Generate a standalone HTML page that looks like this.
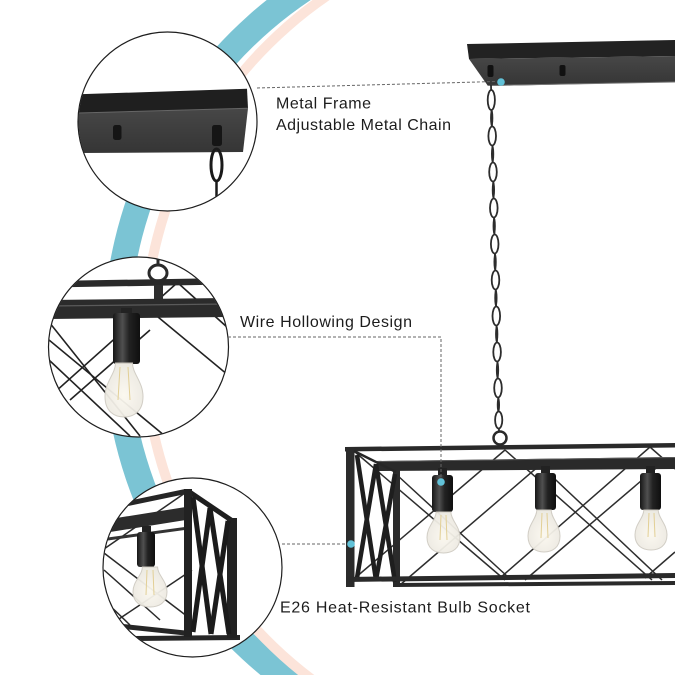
<!DOCTYPE html>
<html><head><meta charset="utf-8"><style>
html,body{margin:0;padding:0;background:#fff;width:675px;height:675px;overflow:hidden;}
svg{display:block;position:absolute;left:0;top:0;}
text{font-family:"Liberation Sans",Arial,sans-serif;font-size:16px;fill:#1c1c1c;}
</style></head><body>
<svg width="675" height="675" viewBox="0 0 675 675" xmlns="http://www.w3.org/2000/svg" overflow="hidden">
<defs>
 <clipPath id="c1"><circle cx="167.5" cy="121.5" r="89"/></clipPath>
 <clipPath id="c2"><circle cx="138.5" cy="347" r="89.5"/></clipPath>
 <clipPath id="c3"><circle cx="192.5" cy="567.5" r="89"/></clipPath>
 <linearGradient id="sock" x1="0" x2="1" y1="0" y2="0">
  <stop offset="0" stop-color="#161616"/><stop offset=".35" stop-color="#505050"/><stop offset=".6" stop-color="#222"/><stop offset="1" stop-color="#0f0f0f"/>
 </linearGradient>
 <radialGradient id="glass" cx=".5" cy=".6" r=".6">
  <stop offset="0" stop-color="#fbf8ef"/><stop offset="1" stop-color="#ebe8e0"/>
 </radialGradient>
 <linearGradient id="under" x1="0" y1="0" x2="0" y2="1">
  <stop offset="0" stop-color="#474747"/><stop offset="1" stop-color="#353535"/>
 </linearGradient>
</defs>
<rect width="675" height="675" fill="#fff"/>

<!-- decorative arcs (filled annular bands, kept inside the frame) -->
<path d="M266.7,0 A435,435 0 0 0 260.5,675 L303.4,675 A409,409 0 0 1 310.7,0 Z" fill="#7bc4d4"/>
<path d="M312.4,0 A426,426 0 0 0 298.1,675 L314.3,675 A416,416 0 0 1 329.6,0 Z" fill="#fce4da"/>

<!-- ===== Canopy top right ===== -->
<polygon points="467,44 675,40 675,56 469,59" fill="#222"/>
<polygon points="469,59 675,56 675,82 488,86" fill="url(#under)"/>
<line x1="488" y1="85.5" x2="675" y2="82" stroke="#777" stroke-width="1"/>
<rect x="487.5" y="65" width="6" height="12" rx="2" fill="#111"/>
<rect x="559.5" y="65" width="6" height="11" rx="2" fill="#111"/>

<!-- chain -->
<line x1="491" y1="85" x2="499" y2="432" stroke="#2c2c2c" stroke-width="1.8"/>
<g fill="#2c2c2c">
 <ellipse cx="491.7" cy="118" rx="1.6" ry="9"/>
 <ellipse cx="492.6" cy="154" rx="1.6" ry="9"/>
 <ellipse cx="493.4" cy="190" rx="1.6" ry="9"/>
 <ellipse cx="494.2" cy="226" rx="1.6" ry="9"/>
 <ellipse cx="495.1" cy="262" rx="1.6" ry="9"/>
 <ellipse cx="495.9" cy="298" rx="1.6" ry="9"/>
 <ellipse cx="496.7" cy="334" rx="1.6" ry="9"/>
 <ellipse cx="497.5" cy="370" rx="1.6" ry="9"/>
 <ellipse cx="498.4" cy="405" rx="1.6" ry="8"/>
</g>
<g fill="#fff" stroke="#2c2c2c" stroke-width="1.8">
 <ellipse cx="491.3" cy="100" rx="3.6" ry="10"/>
 <ellipse cx="492.2" cy="136" rx="3.8" ry="9.5"/>
 <ellipse cx="493.0" cy="172" rx="3.8" ry="9.5"/>
 <ellipse cx="493.8" cy="208" rx="3.8" ry="9.5"/>
 <ellipse cx="494.7" cy="244" rx="3.8" ry="9.5"/>
 <ellipse cx="495.5" cy="280" rx="3.8" ry="9.5"/>
 <ellipse cx="496.3" cy="316" rx="3.8" ry="9.5"/>
 <ellipse cx="497.1" cy="352" rx="3.8" ry="9.5"/>
 <ellipse cx="498.0" cy="388" rx="3.8" ry="9.5"/>
 <ellipse cx="498.7" cy="420" rx="3.6" ry="8.5"/>
</g>
<circle cx="500" cy="438" r="6.5" fill="none" stroke="#2a2a2a" stroke-width="2.5"/>

<!-- ===== Main fixture ===== -->
<g stroke="#2d2d2d" stroke-width="1.5" fill="none">
 <line x1="355" y1="578" x2="505" y2="450"/>
 <line x1="500" y1="578" x2="650" y2="447"/>
 <line x1="645" y1="578" x2="675" y2="552"/>
 <line x1="355" y1="452" x2="505" y2="580"/>
 <line x1="505" y1="450" x2="652" y2="580"/>
 <line x1="650" y1="447" x2="675" y2="469"/>
 <line x1="400" y1="585" x2="540" y2="465"/>
 <line x1="525" y1="580" x2="662" y2="463"/>
 <line x1="397" y1="475" x2="508" y2="577"/>
 <line x1="540" y1="465" x2="662" y2="580"/>
</g>
<polygon points="345,447 675,443 675,447.5 345,451.5" fill="#2a2a2a"/>
<polygon points="377,461 675,457 675,469 377,471" fill="#2a2a2a"/>
<line x1="377" y1="461.5" x2="675" y2="457.5" stroke="#5a5a5a" stroke-width="1"/>
<rect x="346" y="447" width="8.5" height="140" fill="#2b2b2b"/>
<rect x="393" y="470" width="7" height="117" fill="#2b2b2b"/>
<line x1="354" y1="451" x2="396" y2="472" stroke="#262626" stroke-width="2.5"/>
<g stroke="#1e1e1e" stroke-width="4.5">
 <line x1="357" y1="455" x2="376" y2="580"/>
 <line x1="376" y1="464" x2="357" y2="578"/>
 <line x1="376" y1="464" x2="395" y2="582"/>
 <line x1="395" y1="474" x2="376" y2="580"/>
</g>
<polygon points="346,577 675,573 675,578 346,582" fill="#2a2a2a"/>
<polygon points="395,583 675,581 675,585 395,587" fill="#2a2a2a"/>

<!-- sockets -->
<rect x="438" y="468" width="9" height="8" fill="#222"/>
<rect x="432" y="475" width="21" height="37" rx="3" fill="url(#sock)"/>
<rect x="541" y="466" width="9" height="8" fill="#222"/>
<rect x="535" y="473" width="21" height="37" rx="3" fill="url(#sock)"/>
<rect x="646" y="466" width="9" height="8" fill="#222"/>
<rect x="640" y="473" width="21" height="37" rx="3" fill="url(#sock)"/>
<!-- bulbs -->
<g fill="url(#glass)" stroke="#cfcbc2" stroke-width="1" opacity="0.95">
 <path d="M436.1,512 C436.1,520.2 427,526.4 427,537.4 C427,548.9 435.3,553 443.5,553 C451.7,553 460,548.9 460,537.4 C460,526.4 450.9,520.2 450.9,512 Z"/>
 <path d="M536.8,510 C536.8,518.4 528,524.7 528,536 C528,547.8 536,552 544,552 C552,552 560,547.8 560,536 C560,524.7 551.2,518.4 551.2,510 Z"/>
 <path d="M643.8,510 C643.8,518 635,524 635,534.8 C635,546 643,550 651,550 C659,550 667,546 667,534.8 C667,524 658.2,518 658.2,510 Z"/>
</g>
<g stroke="#e2cf95" stroke-width="1" fill="none">
 <path d="M441,515 L440,540 M446,515 L447,540"/>
 <path d="M542,513 L541,538 M547,513 L548,538"/>
 <path d="M649,513 L648,537 M654,513 L655,537"/>
</g>

<!-- ===== Inset 1 ===== -->
<circle cx="167.5" cy="121.5" r="89.5" fill="#fff"/>
<g clip-path="url(#c1)">
 <polygon points="78,94.3 247,88.8 248,108.3 78,113" fill="#1f1f1f"/>
 <polygon points="78,113 248,108.3 243,152 78,153" fill="url(#under)"/>
 <line x1="78" y1="113" x2="248" y2="108.3" stroke="#666" stroke-width="1"/>
 <rect x="113" y="125" width="8.5" height="15" rx="2.5" fill="#151515"/>
 <rect x="212" y="125" width="10" height="21" rx="2.5" fill="#151515"/>
 <ellipse cx="216.5" cy="165" rx="5.5" ry="16" fill="none" stroke="#1a1a1a" stroke-width="3"/>
 <line x1="216.5" y1="181" x2="216.5" y2="211" stroke="#1a1a1a" stroke-width="2.5"/>
</g>
<circle cx="167.5" cy="121.5" r="89.5" fill="none" stroke="#1e1e1e" stroke-width="1.2"/>

<!-- ===== Inset 2 ===== -->
<circle cx="138.5" cy="347" r="90" fill="#fff"/>
<g clip-path="url(#c2)">
 <g stroke="#222" stroke-width="1.6">
  <line x1="177" y1="283" x2="55" y2="392"/>
  <line x1="178" y1="283" x2="228" y2="328"/>
  <line x1="158" y1="317" x2="228" y2="375"/>
  <line x1="49" y1="322" x2="140" y2="436"/>
  <line x1="49" y1="340" x2="165" y2="436"/>
  <line x1="49" y1="360" x2="130" y2="436"/>
  <line x1="70" y1="400" x2="150" y2="330"/>
 </g>
 <polygon points="49,281 228,278 228,284.5 49,287.5" fill="#2a2a2a"/>
 <line x1="158" y1="258" x2="158" y2="266" stroke="#2a2a2a" stroke-width="3"/>
 <ellipse cx="158" cy="273" rx="9" ry="8" fill="none" stroke="#2a2a2a" stroke-width="3"/>
 <rect x="154" y="285" width="9" height="15" fill="#2e2e2e"/>
 <polygon points="49,300 228,298 228,317 49,319" fill="#2b2b2b"/>
 <line x1="49" y1="306" x2="228" y2="304" stroke="#5a5a5a" stroke-width="1.2"/>
 <rect x="121" y="308" width="11" height="6" fill="#222"/>
 <rect x="113" y="313" width="27" height="51" rx="3" fill="url(#sock)"/>
 <path d="M115.5,363 C115.5,373.8 105,381.9 105,396.5 C105,411.6 114.5,417 124,417 C133.5,417 143,411.6 143,396.5 C143,381.9 132.5,373.8 132.5,363 Z" fill="url(#glass)" stroke="#cfcbc2" stroke-width="1" opacity="0.95"/>
 <path d="M120,367 L118,400 M128,367 L130,400" stroke="#e2cf95" stroke-width="1" fill="none"/>
</g>
<circle cx="138.5" cy="347" r="90" fill="none" stroke="#1e1e1e" stroke-width="1.2"/>

<!-- ===== Inset 3 ===== -->
<circle cx="192.5" cy="567.5" r="89.5" fill="#fff"/>
<g clip-path="url(#c3)">
 <g stroke="#2a2a2a" stroke-width="1.5">
  <line x1="104" y1="549" x2="185" y2="493"/>
  <line x1="104" y1="553" x2="192" y2="620"/>
  <line x1="104" y1="570" x2="160" y2="620"/>
  <line x1="110" y1="625" x2="192" y2="570"/>
  <line x1="104" y1="600" x2="130" y2="625"/>
 </g>
 <polygon points="104,506 185,489 186,494 104,511" fill="#262626"/>
 <polygon points="104,520 192,506 192,519 104,533" fill="#2c2c2c"/>
 <polygon points="104,538 192,526 192,529 104,541" fill="#333"/>
 <polygon points="104,622 190,631 190,636 104,627" fill="#262626"/>
 <polygon points="130,636 240,635 240,640 130,641" fill="#262626"/>
 <line x1="188" y1="491" x2="231" y2="520" stroke="#1e1e1e" stroke-width="5"/>
 <rect x="184" y="489" width="8" height="148" fill="#222"/>
 <rect x="227" y="518" width="10" height="120" fill="#222"/>
 <g stroke="#1b1b1b" stroke-width="5">
  <line x1="193" y1="497" x2="211" y2="634"/>
  <line x1="210" y1="508" x2="193" y2="632"/>
  <line x1="210" y1="508" x2="229" y2="634"/>
  <line x1="228" y1="521" x2="211" y2="634"/>
 </g>
 <rect x="142" y="526" width="9" height="7" fill="#222"/>
 <rect x="137" y="532" width="18" height="35" rx="3" fill="url(#sock)"/>
 <path d="M142.4,567 C142.4,575 133,581 133,591.8 C133,603 141.5,607 150,607 C158.5,607 167,603 167,591.8 C167,581 157.6,575 157.6,567 Z" fill="url(#glass)" stroke="#cfcbc2" stroke-width="1" opacity="0.95"/>
 <path d="M147,570 L146,595 M153,570 L154,595" stroke="#e2cf95" stroke-width="1" fill="none"/>
</g>
<circle cx="192.5" cy="567.5" r="89.5" fill="none" stroke="#1e1e1e" stroke-width="1.2"/>

<!-- leader lines -->
<g stroke="#666" stroke-width="1" stroke-dasharray="3 2" fill="none">
 <line x1="257" y1="88" x2="496" y2="81.5"/>
 <polyline points="228,337 441,337 441,478"/>
 <line x1="282" y1="544" x2="347" y2="544"/>
</g>
<g fill="#62c2d8">
 <circle cx="501" cy="82" r="3.8"/>
 <circle cx="441" cy="482" r="3.8"/>
 <circle cx="351" cy="544" r="3.8"/>
</g>

<!-- labels -->
<text x="276" y="108.5" textLength="95" lengthAdjust="spacing">Metal Frame</text>
<text x="276" y="130" textLength="175" lengthAdjust="spacing">Adjustable Metal Chain</text>
<text x="240" y="327" textLength="172" lengthAdjust="spacing">Wire Hollowing Design</text>
<text x="280" y="612.5" textLength="250" lengthAdjust="spacing">E26 Heat-Resistant Bulb Socket</text>
</svg>
</body></html>
